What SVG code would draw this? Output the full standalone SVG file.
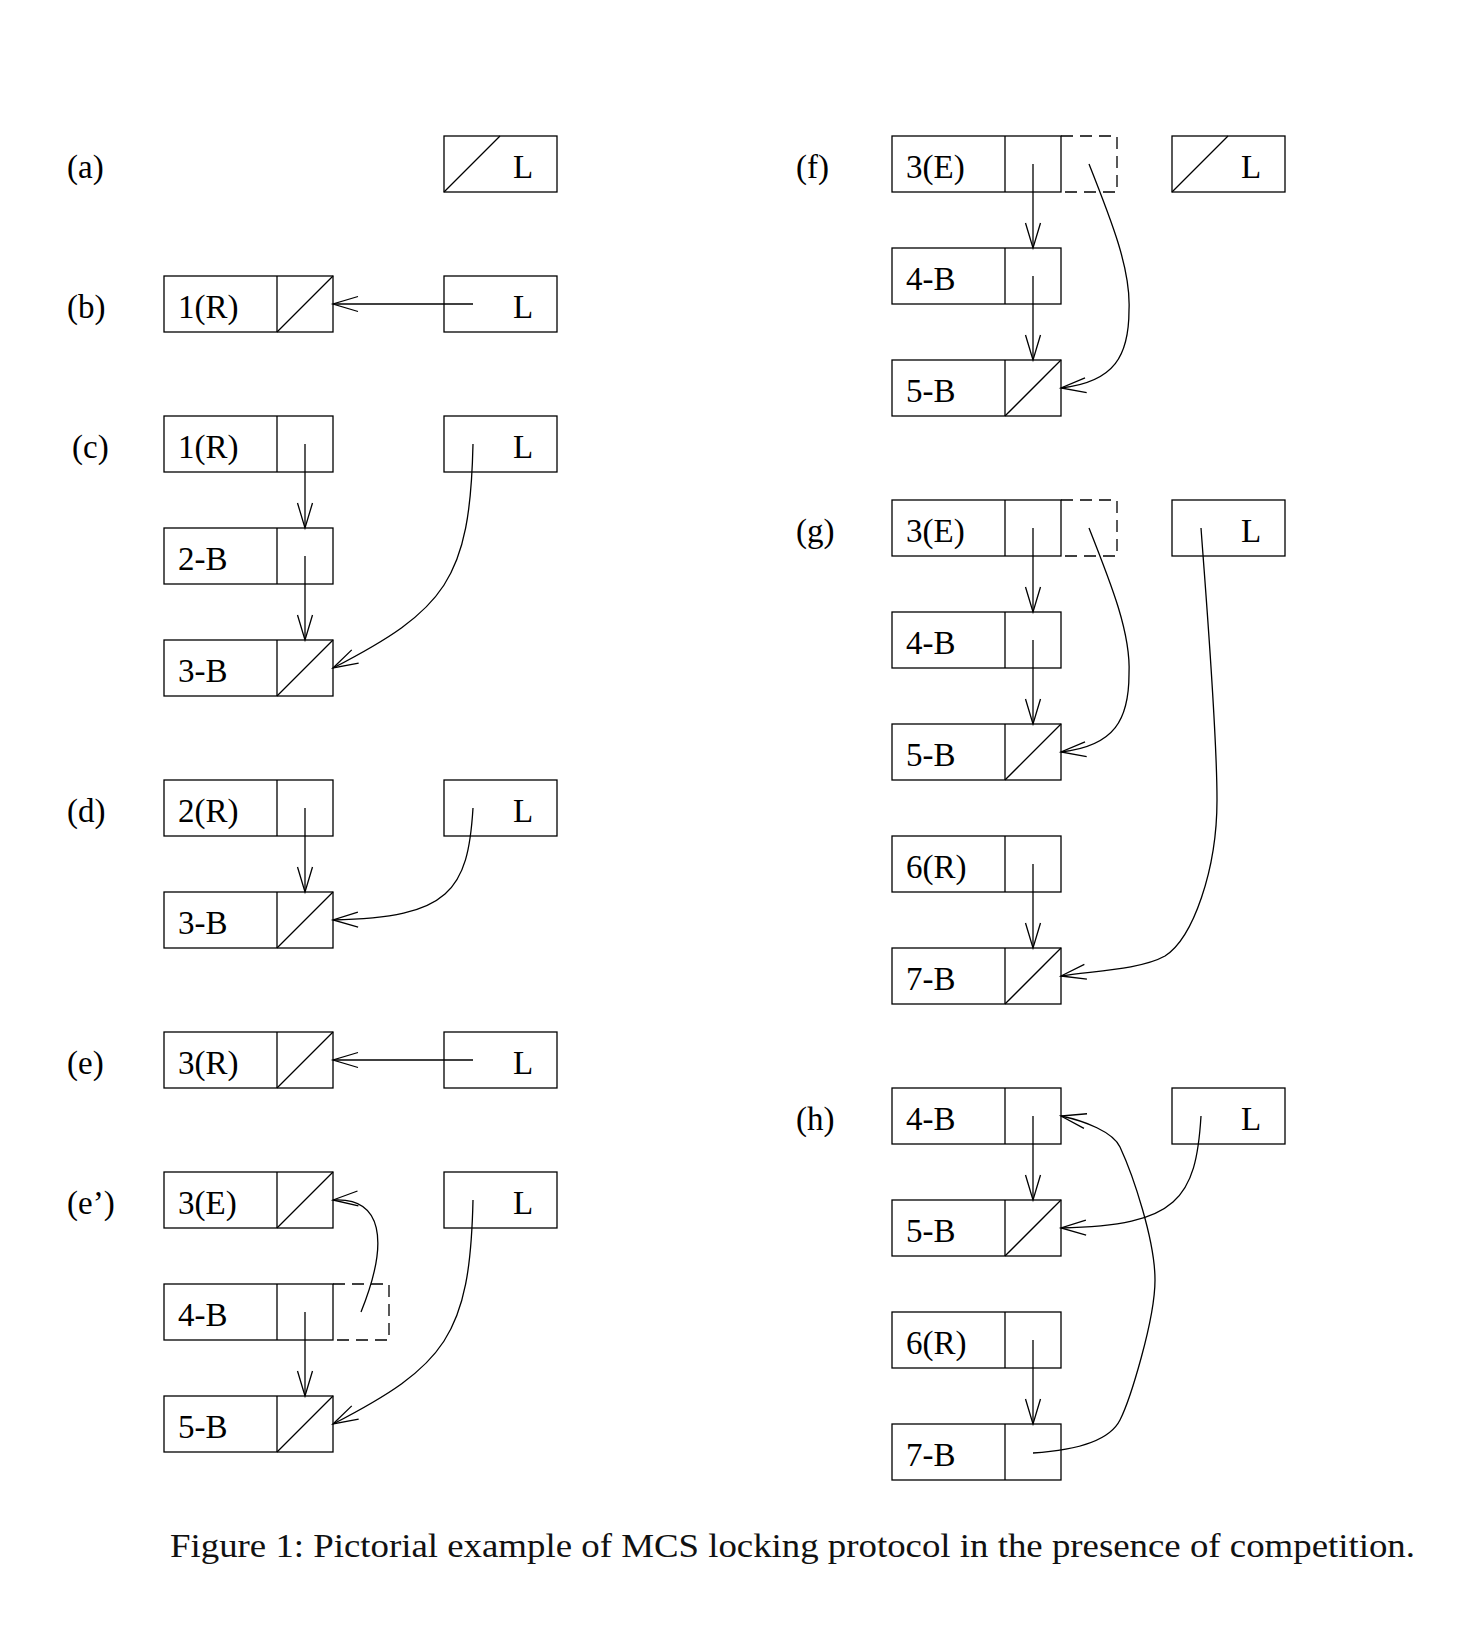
<svg xmlns="http://www.w3.org/2000/svg" width="1476" height="1636" viewBox="0 0 1476 1636">
<style>
.b{fill:none;stroke:#000;stroke-width:1.3}
.d{fill:none;stroke:#000;stroke-width:1.3;stroke-dasharray:12 7}
.c{fill:none;stroke:#000;stroke-width:1.3;marker-end:url(#ah)}
text{font-family:"Liberation Serif","Times New Roman",serif;font-size:33px;fill:#000}
.cap{fill:#111}
</style>
<defs>
<marker id="ah" markerUnits="userSpaceOnUse" viewBox="-27 -10 29 20" refX="0" refY="0" markerWidth="29" markerHeight="20" orient="auto" overflow="visible">
<path d="M-25,-7.5 L0,0 L-25,7.5" fill="none" stroke="#000" stroke-width="1.3"/>
</marker>
</defs>
<rect width="1476" height="1636" fill="#fff"/>

<g id="labels">
<text x="67" y="178">(a)</text>
<text x="67" y="318">(b)</text>
<text x="72" y="458">(c)</text>
<text x="67" y="822">(d)</text>
<text x="67" y="1074">(e)</text>
<text x="67" y="1214">(e’)</text>
<text x="796" y="178">(f)</text>
<text x="796" y="542">(g)</text>
<text x="796" y="1130">(h)</text>
</g>

<!-- (a) -->
<g id="a-L"><rect class="b" x="444" y="136" width="113" height="56"/><line class="b" x1="444" y1="192" x2="500" y2="136"/><text x="513" y="178">L</text></g>

<!-- (b) -->
<g id="b-1R"><rect class="b" x="164" y="276" width="169" height="56"/><line class="b" x1="277" y1="276" x2="277" y2="332"/><line class="b" x1="277" y1="332" x2="333" y2="276"/><text x="178" y="318">1(R)</text></g>
<g id="b-L"><rect class="b" x="444" y="276" width="113" height="56"/><text x="513" y="318">L</text></g>

<!-- (c) -->
<g id="c-1R"><rect class="b" x="164" y="416" width="169" height="56"/><line class="b" x1="277" y1="416" x2="277" y2="472"/><text x="178" y="458">1(R)</text></g>
<g id="c-2B"><rect class="b" x="164" y="528" width="169" height="56"/><line class="b" x1="277" y1="528" x2="277" y2="584"/><text x="178" y="570">2-B</text></g>
<g id="c-3B"><rect class="b" x="164" y="640" width="169" height="56"/><line class="b" x1="277" y1="640" x2="277" y2="696"/><line class="b" x1="277" y1="696" x2="333" y2="640"/><text x="178" y="682">3-B</text></g>
<g id="c-L"><rect class="b" x="444" y="416" width="113" height="56"/><text x="513" y="458">L</text></g>

<!-- (d) -->
<g id="d-2R"><rect class="b" x="164" y="780" width="169" height="56"/><line class="b" x1="277" y1="780" x2="277" y2="836"/><text x="178" y="822">2(R)</text></g>
<g id="d-3B"><rect class="b" x="164" y="892" width="169" height="56"/><line class="b" x1="277" y1="892" x2="277" y2="948"/><line class="b" x1="277" y1="948" x2="333" y2="892"/><text x="178" y="934">3-B</text></g>
<g id="d-L"><rect class="b" x="444" y="780" width="113" height="56"/><text x="513" y="822">L</text></g>

<!-- (e) -->
<g id="e-3R"><rect class="b" x="164" y="1032" width="169" height="56"/><line class="b" x1="277" y1="1032" x2="277" y2="1088"/><line class="b" x1="277" y1="1088" x2="333" y2="1032"/><text x="178" y="1074">3(R)</text></g>
<g id="e-L"><rect class="b" x="444" y="1032" width="113" height="56"/><text x="513" y="1074">L</text></g>

<!-- (e') -->
<g id="e2-3E"><rect class="b" x="164" y="1172" width="169" height="56"/><line class="b" x1="277" y1="1172" x2="277" y2="1228"/><line class="b" x1="277" y1="1228" x2="333" y2="1172"/><text x="178" y="1214">3(E)</text></g>
<g id="e2-4B"><rect class="b" x="164" y="1284" width="169" height="56"/><line class="b" x1="277" y1="1284" x2="277" y2="1340"/><path class="d" d="M333,1284 H389 V1340 H333"/><text x="178" y="1326">4-B</text></g>
<g id="e2-5B"><rect class="b" x="164" y="1396" width="169" height="56"/><line class="b" x1="277" y1="1396" x2="277" y2="1452"/><line class="b" x1="277" y1="1452" x2="333" y2="1396"/><text x="178" y="1438">5-B</text></g>
<g id="e2-L"><rect class="b" x="444" y="1172" width="113" height="56"/><text x="513" y="1214">L</text></g>

<!-- (f) -->
<g id="f-3E"><rect class="b" x="892" y="136" width="169" height="56"/><line class="b" x1="1005" y1="136" x2="1005" y2="192"/><path class="d" d="M1061,136 H1117 V192 H1061"/><text x="906" y="178">3(E)</text></g>
<g id="f-4B"><rect class="b" x="892" y="248" width="169" height="56"/><line class="b" x1="1005" y1="248" x2="1005" y2="304"/><text x="906" y="290">4-B</text></g>
<g id="f-5B"><rect class="b" x="892" y="360" width="169" height="56"/><line class="b" x1="1005" y1="360" x2="1005" y2="416"/><line class="b" x1="1005" y1="416" x2="1061" y2="360"/><text x="906" y="402">5-B</text></g>
<g id="f-L"><rect class="b" x="1172" y="136" width="113" height="56"/><line class="b" x1="1172" y1="192" x2="1228" y2="136"/><text x="1241" y="178">L</text></g>

<!-- (g) -->
<g id="g-3E"><rect class="b" x="892" y="500" width="169" height="56"/><line class="b" x1="1005" y1="500" x2="1005" y2="556"/><path class="d" d="M1061,500 H1117 V556 H1061"/><text x="906" y="542">3(E)</text></g>
<g id="g-4B"><rect class="b" x="892" y="612" width="169" height="56"/><line class="b" x1="1005" y1="612" x2="1005" y2="668"/><text x="906" y="654">4-B</text></g>
<g id="g-5B"><rect class="b" x="892" y="724" width="169" height="56"/><line class="b" x1="1005" y1="724" x2="1005" y2="780"/><line class="b" x1="1005" y1="780" x2="1061" y2="724"/><text x="906" y="766">5-B</text></g>
<g id="g-6R"><rect class="b" x="892" y="836" width="169" height="56"/><line class="b" x1="1005" y1="836" x2="1005" y2="892"/><text x="906" y="878">6(R)</text></g>
<g id="g-7B"><rect class="b" x="892" y="948" width="169" height="56"/><line class="b" x1="1005" y1="948" x2="1005" y2="1004"/><line class="b" x1="1005" y1="1004" x2="1061" y2="948"/><text x="906" y="990">7-B</text></g>
<g id="g-L"><rect class="b" x="1172" y="500" width="113" height="56"/><text x="1241" y="542">L</text></g>

<!-- (h) -->
<g id="h-4B"><rect class="b" x="892" y="1088" width="169" height="56"/><line class="b" x1="1005" y1="1088" x2="1005" y2="1144"/><text x="906" y="1130">4-B</text></g>
<g id="h-5B"><rect class="b" x="892" y="1200" width="169" height="56"/><line class="b" x1="1005" y1="1200" x2="1005" y2="1256"/><line class="b" x1="1005" y1="1256" x2="1061" y2="1200"/><text x="906" y="1242">5-B</text></g>
<g id="h-6R"><rect class="b" x="892" y="1312" width="169" height="56"/><line class="b" x1="1005" y1="1312" x2="1005" y2="1368"/><text x="906" y="1354">6(R)</text></g>
<g id="h-7B"><rect class="b" x="892" y="1424" width="169" height="56"/><line class="b" x1="1005" y1="1424" x2="1005" y2="1480"/><text x="906" y="1466">7-B</text></g>
<g id="h-L"><rect class="b" x="1172" y="1088" width="113" height="56"/><text x="1241" y="1130">L</text></g>

<g id="connectors">
<!-- b -->
<path class="c" d="M473,304 H333"/>
<!-- c -->
<path class="c" d="M305,444 V528"/>
<path class="c" d="M305,556 V640"/>
<path class="c" d="M473,444 C470,580 445,610 333,668"/>
<!-- d -->
<path class="c" d="M305,808 V892"/>
<path class="c" d="M473,808 C468,890 450,918 333,920"/>
<!-- e -->
<path class="c" d="M473,1060 H333"/>
<!-- e' -->
<path class="c" d="M305,1312 V1396"/>
<path class="c" d="M361,1312 C390,1240 382,1197 333,1200"/>
<path class="c" d="M473,1200 C470,1336 445,1366 333,1424"/>
<!-- f -->
<path class="c" d="M1033,164 V248"/>
<path class="c" d="M1033,276 V360"/>
<path class="c" d="M1089,164 C1112,222 1131,270 1129,310 C1129,355 1115,382 1061,388"/>
<!-- g -->
<path class="c" d="M1033,528 V612"/>
<path class="c" d="M1033,640 V724"/>
<path class="c" d="M1033,864 V948"/>
<path class="c" d="M1089,528 C1112,586 1131,634 1129,674 C1129,719 1115,746 1061,752"/>
<path class="c" d="M1201,528 C1207,610 1217,730 1217,800 C1217,870 1193,938 1165,956 C1140,970 1090,971 1061,976"/>
<!-- h -->
<path class="c" d="M1033,1116 V1200"/>
<path class="c" d="M1033,1340 V1424"/>
<path class="c" d="M1201,1116 C1196,1198 1178,1226 1061,1228"/>
<path class="c" d="M1033,1453 C1080,1450 1110,1440 1120,1420 C1130,1400 1155,1320 1155,1280 C1155,1240 1133,1175 1120,1147 C1113,1132 1085,1121 1061,1116"/>
</g>

<text class="cap" x="170" y="1557" textLength="1245" lengthAdjust="spacingAndGlyphs">Figure 1: Pictorial example of MCS locking protocol in the presence of competition.</text>
</svg>
